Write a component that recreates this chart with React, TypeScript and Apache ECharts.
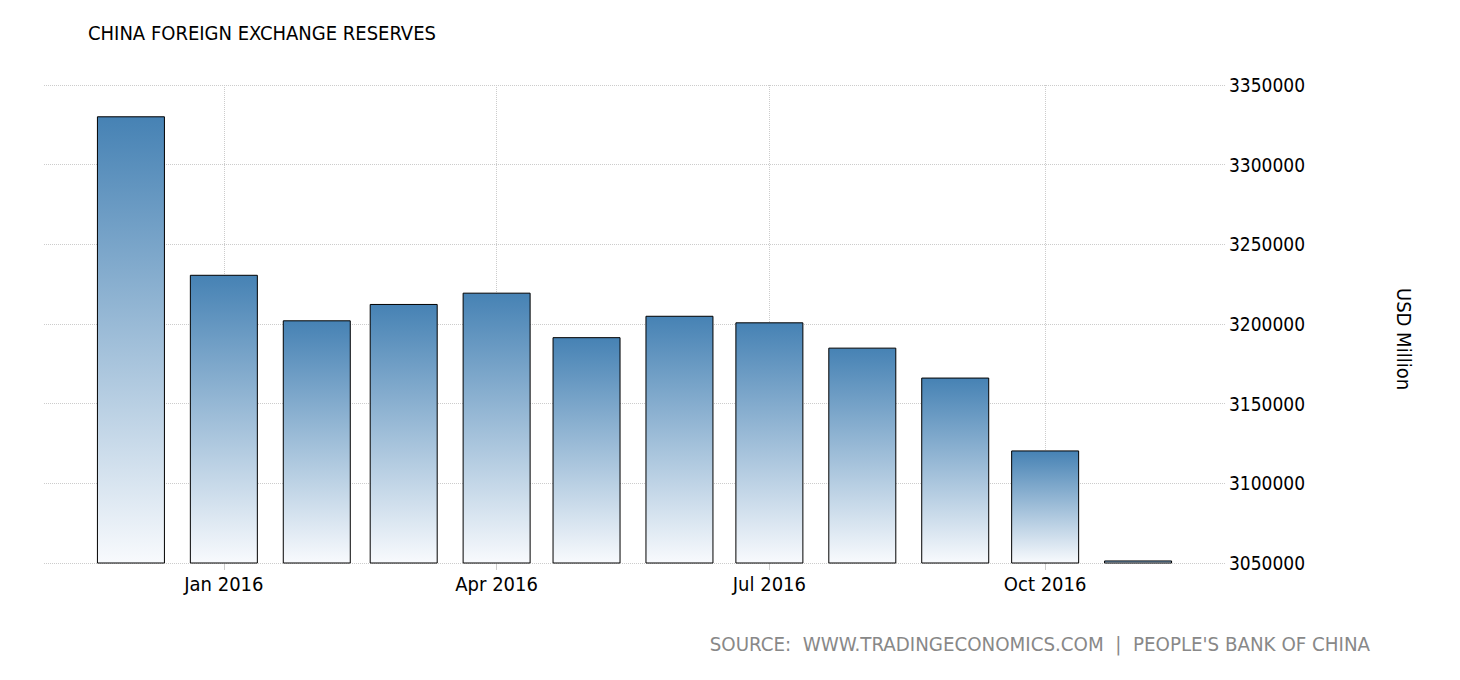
import React, { useEffect, useRef } from "react";
import * as echarts from "echarts";

const title = "CHINA FOREIGN EXCHANGE RESERVES";
const source = "SOURCE:  WWW.TRADINGECONOMICS.COM  |  PEOPLE'S BANK OF CHINA";
const unit = "USD Million";
const months = [
  "2015-12-01", "2016-01-01", "2016-02-01", "2016-03-01", "2016-04-01", "2016-05-01",
  "2016-06-01", "2016-07-01", "2016-08-01", "2016-09-01", "2016-10-01", "2016-11-01",
];
const reserves = [
  3330362, 3230890, 3202321, 3212579, 3219668, 3191736,
  3205162, 3201057, 3185167, 3166382, 3120655, 3051598,
];
const xTicks = ["2016-01-01", "2016-04-01", "2016-07-01", "2016-10-01"];
const xMin = "2015-11-02";
const xMax = "2016-11-30";
const yMin = 3050000;
const yMax = 3350000;
const yStep = 50000;
const monthNames = ["Jan", "Feb", "Mar", "Apr", "May", "Jun", "Jul", "Aug", "Sep", "Oct", "Nov", "Dec"];

const FONT = "DejaVu Sans Condensed";
const ms = (d: string) => Date.UTC(+d.slice(0, 4), +d.slice(5, 7) - 1, +d.slice(8, 10));

export default function App() {
  const ref = useRef<HTMLDivElement>(null);
  useEffect(() => {
    if (!ref.current) return;
    const chart = echarts.init(ref.current, null, { renderer: "svg" });
    const tickVals = xTicks.map(ms);
    chart.setOption({
      animation: false,
      backgroundColor: "#ffffff",
      title: {
        text: title,
        left: 88,
        top: 23,
        padding: 0,
        textStyle: { fontFamily: FONT, fontSize: 20, fontWeight: "normal", color: "#000" },
      },
      graphic: [
        {
          type: "text",
          right: 90,
          top: 634,
          style: { text: source, fontFamily: FONT, fontSize: 20.3, fill: "#888" },
        },
        {
          type: "text",
          x: 1404,
          y: 339,
          rotation: -Math.PI / 2,
          style: {
            text: unit,
            fontFamily: FONT,
            fontSize: 20,
            fill: "#000",
            align: "center",
            verticalAlign: "middle",
          },
        },
      ],
      grid: { left: 44, right: 235, top: 85, bottom: 117, containLabel: false },
      xAxis: {
        type: "value",
        min: ms(xMin),
        max: ms(xMax),
        axisLine: { show: false },
        axisTick: { show: true, customValues: tickVals, length: 7, lineStyle: { color: "#ccc" } },
        axisLabel: {
          customValues: tickVals,
          fontFamily: FONT,
          fontSize: 20,
          color: "#000",
          margin: 11,
          formatter: (v: number) => {
            const d = new Date(v);
            return monthNames[d.getUTCMonth()] + " " + d.getUTCFullYear();
          },
        },
        splitLine: { show: true, lineStyle: { color: "#ccc", type: "dotted" } },
      },
      yAxis: {
        type: "value",
        position: "right",
        min: yMin,
        max: yMax,
        interval: yStep,
        axisLine: { show: false },
        axisTick: { show: false },
        axisLabel: {
          fontFamily: FONT,
          fontSize: 19,
          color: "#000",
          margin: 4,
          formatter: (v: number) => String(v),
        },
        splitLine: { show: true, lineStyle: { color: "#ccc", type: "dotted" } },
      },
      series: [
        {
          type: "bar",
          barWidth: 68,
          data: months.map((m, i) => [ms(m), reserves[i]]),
          itemStyle: {
            color: new echarts.graphic.LinearGradient(0, 0, 0, 1, [
              { offset: 0, color: "#4682b4" },
              { offset: 1, color: "#f8fafd" },
            ]),
            borderColor: "#000",
            borderWidth: 1,
          },
        },
      ],
    });
    return () => chart.dispose();
  }, []);
  return (
    <div
      ref={ref}
      style={{ position: "fixed", left: 0, top: 0, width: 1460, height: 680 }}
    />
  );
}
